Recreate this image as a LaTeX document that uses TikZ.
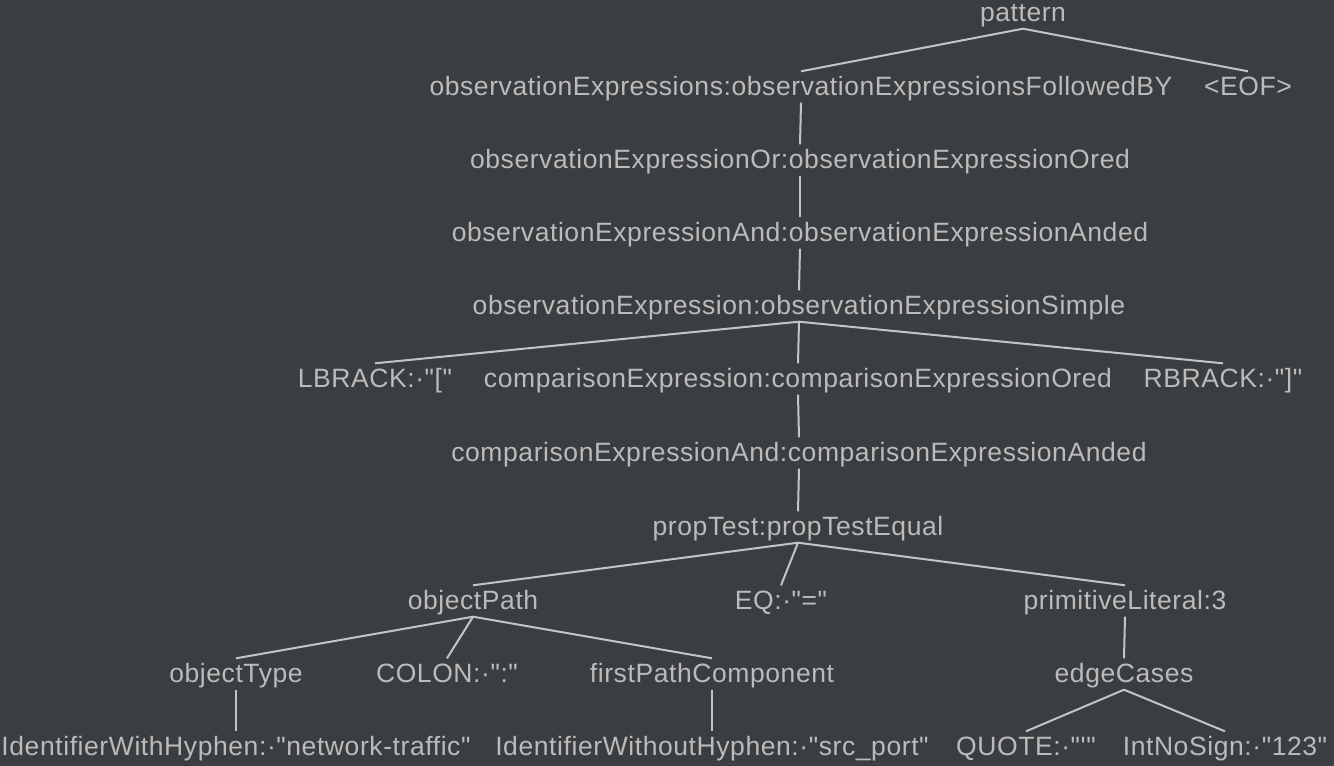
\documentclass[tikz,border=0pt]{standalone}
\usepackage{fontspec}
\setmainfont{Liberation Sans}[Ligatures=TeXOff, LetterSpace=2.2]
\usepackage{xcolor}
\usepackage{tikz}
\usetikzlibrary{positioning}
\definecolor{bggrey}{HTML}{3B3E41}
\definecolor{labelgrey}{HTML}{BBBBBB}
\definecolor{linkgrey}{HTML}{C4C4C4}

\begin{document}
\begin{tikzpicture}[
		x=1pt, y=-1pt,
		font=\fontsize{26.5}{30}\selectfont,
		lbl/.style={text=labelgrey, inner xsep=0pt, inner ysep=3pt,
			text height=21pt, text depth=4pt},
		link/.style={draw=linkgrey, line width=2pt}
		]
		\fill[bggrey] (0,0) rectangle (1334,766);
		\useasboundingbox (0,0) rectangle (1334,766);
		\node[lbl] (pattern) at (1023,13) {pattern};
		\node[lbl] (obsexprs) at (801,87) {observationExpressions:observationExpressionsFollowedBY};
		\node[lbl] (eof) at (1248,87) {<EOF>};
		\node[lbl] (obsor) at (800,160) {observationExpressionOr:observationExpressionOred};
		\node[lbl] (obsand) at (800,233) {observationExpressionAnd:observationExpressionAnded};
		\node[lbl] (obsexpr) at (799,306) {observationExpression:observationExpressionSimple};
		\node[lbl] (lbrack) at (375,379) {LBRACK:·"["};
		\node[lbl] (cmpexpr) at (798,379) {comparisonExpression:comparisonExpressionOred};
		\node[lbl] (rbrack) at (1223,379) {RBRACK:·"]"};
		\node[lbl] (cmpand) at (799,453) {comparisonExpressionAnd:comparisonExpressionAnded};
		\node[lbl] (proptest) at (798,527) {propTest:propTestEqual};
		\node[lbl] (objpath) at (473,601) {objectPath};
		\node[lbl] (eq) at (781,601) {EQ:·"="};
		\node[lbl] (primlit) at (1125,601) {primitiveLiteral:3};
		\node[lbl] (objtype) at (236,674) {objectType};
		\node[lbl] (colon) at (447,674) {COLON:·":"};
		\node[lbl] (firstpath) at (712,674) {firstPathComponent};
		\node[lbl] (edgecases) at (1124,674) {edgeCases};
		\node[lbl] (idhyph) at (236,747) {IdentifierWithHyphen:·"network-traffic"};
		\node[lbl] (idnohyph) at (712,747) {IdentifierWithoutHyphen:·"src\_port"};
		\node[lbl] (quote) at (1026,747) {QUOTE:·"'"};
		\node[lbl] (intnosign) at (1225,747) {IntNoSign:·"123"};
		\draw[link] (pattern.south) -- (obsexprs.north);
		\draw[link] (pattern.south) -- (eof.north);
		\draw[link] (obsexprs.south) -- (obsor.north);
		\draw[link] (obsor.south) -- (obsand.north);
		\draw[link] (obsand.south) -- (obsexpr.north);
		\draw[link] (obsexpr.south) -- (lbrack.north);
		\draw[link] (obsexpr.south) -- (cmpexpr.north);
		\draw[link] (obsexpr.south) -- (rbrack.north);
		\draw[link] (cmpexpr.south) -- (cmpand.north);
		\draw[link] (cmpand.south) -- (proptest.north);
		\draw[link] (proptest.south) -- (objpath.north);
		\draw[link] (proptest.south) -- (eq.north);
		\draw[link] (proptest.south) -- (primlit.north);
		\draw[link] (objpath.south) -- (objtype.north);
		\draw[link] (objpath.south) -- (colon.north);
		\draw[link] (objpath.south) -- (firstpath.north);
		\draw[link] (primlit.south) -- (edgecases.north);
		\draw[link] (objtype.south) -- (idhyph.north);
		\draw[link] (firstpath.south) -- (idnohyph.north);
		\draw[link] (edgecases.south) -- (quote.north);
		\draw[link] (edgecases.south) -- (intnosign.north);
	\end{tikzpicture}
\end{document}
